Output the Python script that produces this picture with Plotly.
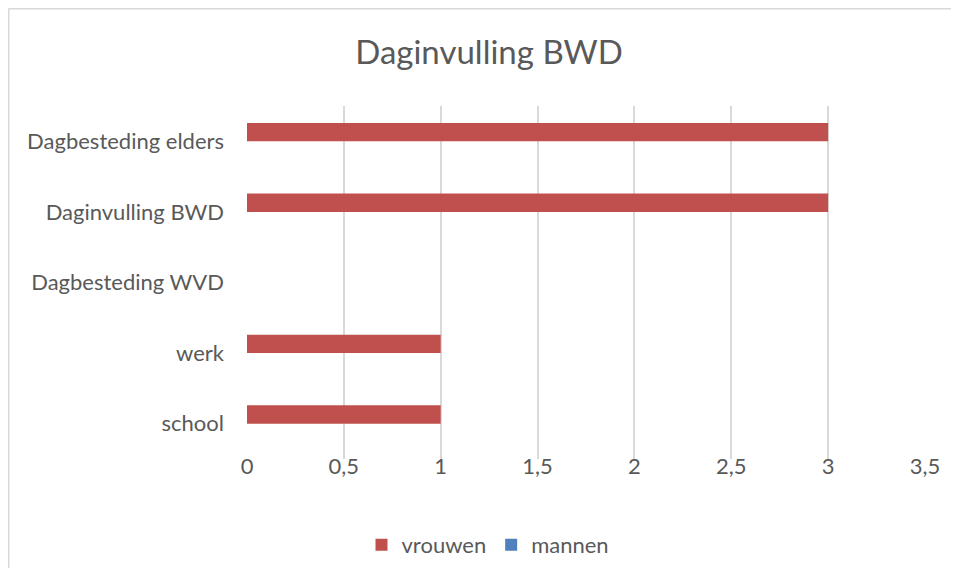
import plotly.graph_objects as go

categories = ["school", "werk", "Dagbesteding WVD", "Daginvulling BWD", "Dagbesteding elders"]
vrouwen = [1, 1, 0, 3, 3]
mannen = [0, 0, 0, 0, 0]
x_ticks = [0, 0.5, 1, 1.5, 2, 2.5, 3, 3.5]
x_labels = ["0", "0,5", "1", "1,5", "2", "2,5", "3", "3,5"]

# page has an 8px body margin: figure origin sits at page (8, 8)
O = 8
W, H = 943, 560
L = 247 - O
T = 106 - O
R = W - (925 - O)
B = H - (459 - O)
pw, ph = W - L - R, H - T - B

FONT = "Lato"
TXT = "#595959"

fig = go.Figure()
fig.add_trace(go.Bar(y=categories, x=mannen, orientation="h", name="mannen",
                     marker=dict(color="#4f81bd", line=dict(width=0)), legendrank=2))
fig.add_trace(go.Bar(y=categories, x=vrouwen, orientation="h", name="vrouwen",
                     marker=dict(color="#c0504d", line=dict(width=0)), legendrank=1))


def px_x(p):
    return (p - O - L) / pw


def px_y(p):
    return 1 - (p - O - T) / ph


fig.update_layout(
    width=W, height=H,
    margin=dict(l=L, r=R, t=T, b=B, autoexpand=False),
    paper_bgcolor="white", plot_bgcolor="white",
    barmode="group", bargap=0.48, bargroupgap=0,
    font=dict(family=FONT, color=TXT, size=22),
    title=dict(text="Daginvulling BWD", x=(489 - O) / W, xanchor="center",
               y=1 - (52 - O) / H, yanchor="middle", xref="container", yref="container",
               font=dict(family=FONT, size=33, color=TXT)),
    xaxis=dict(range=[0, 3.5], tickvals=x_ticks, ticktext=x_labels,
               showgrid=True, gridcolor="#d9d9d9", gridwidth=2,
               zeroline=False, showline=False, ticks="", fixedrange=True,
               ticklabelstandoff=-8,
               tickfont=dict(size=22, color=TXT)),
    yaxis=dict(type="category", categoryorder="array", categoryarray=categories,
               showgrid=False, zeroline=False, showline=False, ticks="",
               ticklabelstandoff=22, tickfont=dict(size=22, color=TXT)),
    legend=dict(orientation="h", x=px_x(488), xanchor="center",
                y=px_y(545), yanchor="middle", font=dict(size=22, color=TXT),
                itemwidth=30, traceorder="normal"),
    showlegend=True,
    shapes=[dict(type="line", xref="paper", yref="paper",
                 x0=px_x(O + 0.5), x1=px_x(1000), y0=px_y(O + 0.75), y1=px_y(O + 0.75),
                 line=dict(color="#d9d9d9", width=1.5)),
            dict(type="line", xref="paper", yref="paper",
                 x0=px_x(O + 0.75), x1=px_x(O + 0.75), y0=px_y(O + 0.5), y1=px_y(700),
                 line=dict(color="#d9d9d9", width=1.5))],
)

fig.write_html("out.html")
